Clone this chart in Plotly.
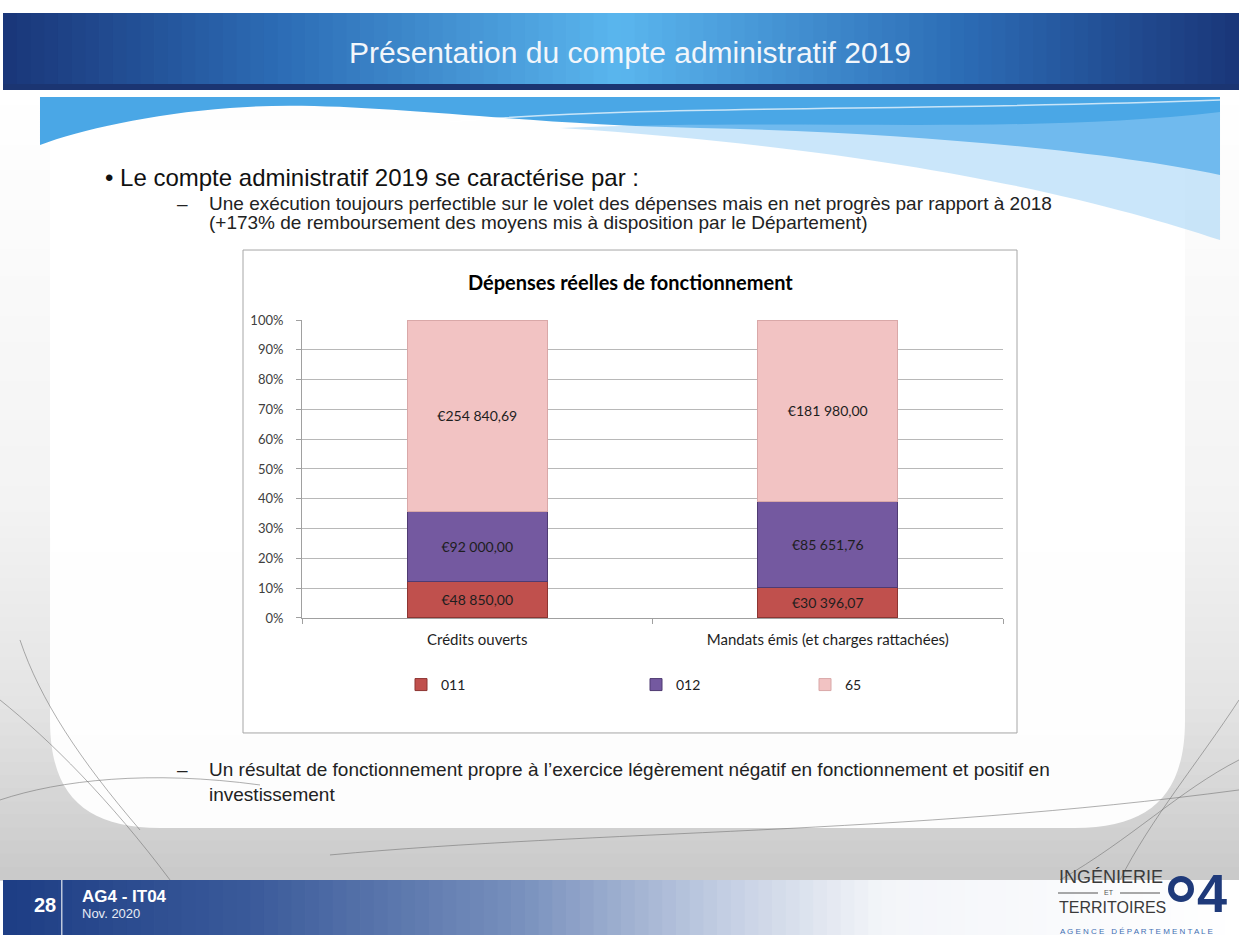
import re
import plotly.graph_objects as go

# chart data
categories = ["Crédits ouverts", "Mandats émis (et charges rattachées)"]
series_names = ["011", "012", "65"]
values_011 = [48850.00, 30396.07]
values_012 = [92000.00, 85651.76]
values_65 = [254840.69, 181980.00]
y_tick_values = [0, 10, 20, 30, 40, 50, 60, 70, 80, 90, 100]
y_tick_labels = ["0%", "10%", "20%", "30%", "40%", "50%", "60%", "70%", "80%", "90%", "100%"]

W, H = 1239, 935
CHART_FONT = "Lato, Carlito, Calibri, sans-serif"
SLIDE_FONT = "Liberation Sans, Arial, sans-serif"
# the photographed page came out slightly squeezed vertically, stretch y a bit
Y_STRETCH = 1 / 0.983
Y_MID = 468


def px(x):
    return x / W


def py(y):
    return 1 - (Y_MID + (y - Y_MID) * Y_STRETCH) / H


def to_paper(path):
    # path written in slide pixels -> paper coordinates
    return re.sub(r"(-?\d+\.?\d*),(-?\d+\.?\d*)",
                  lambda m: f"{px(float(m[1])):.5f},{py(float(m[2])):.5f}", path)


def hex_rgb(h):
    h = h.lstrip("#")
    return [int(h[i:i + 2], 16) for i in (0, 2, 4)]


def blend(stops, pos):
    for (p0, c0), (p1, c1) in zip(stops[:-1], stops[1:]):
        if p0 <= pos <= p1:
            t = (pos - p0) / (p1 - p0) if p1 > p0 else 0
            a, b = hex_rgb(c0), hex_rgb(c1)
            return "rgb(%d,%d,%d)" % tuple(round(a[i] + (b[i] - a[i]) * t) for i in range(3))
    return stops[-1][1]


def euro(v):
    s = f"{v:,.2f}"
    return "€" + s.replace(",", " ").replace(".", ",")


shapes = []


def rect(x0, y0, x1, y1, color, line=None):
    shapes.append(dict(type="rect", xref="paper", yref="paper", layer="below",
                       x0=px(x0), x1=px(x1), y0=py(y1), y1=py(y0),
                       fillcolor=color, line=line or dict(width=0)))


def path(d, fill=None, line=None):
    shapes.append(dict(type="path", xref="paper", yref="paper", layer="below",
                       path=to_paper(d), fillcolor=fill or "rgba(0,0,0,0)",
                       line=line or dict(width=0)))


def hgrad(x0, x1, y0, y1, stops, n=90):
    step = (x1 - x0) / n
    for i in range(n):
        a = x0 + i * step
        rect(a, y0, a + step + 0.8, y1, blend(stops, a + step / 2))


def vgrad(x0, x1, y0, y1, stops, n=60):
    step = (y1 - y0) / n
    for i in range(n):
        a = y0 + i * step
        rect(x0, a, x1, a + step + 0.8, blend(stops, a + step / 2))


# ---- slide background ----
vgrad(0, W, 92, 880, [(92, "#ffffff"), (500, "#f3f3f3"), (700, "#e4e4e4"), (880, "#c9c9c9")])
path("M 50,130 L 1185,130 L 1185,720 C 1185,795 1150,828 1075,828 L 160,828 C 85,828 50,795 50,720 Z",
     fill="rgba(255,255,255,0.94)")

# decorative thin lines
for d in ["M 0,700 C 50,740 110,800 170,880",
          "M 0,800 C 60,780 150,770 260,785",
          "M 20,640 C 40,700 80,760 140,830",
          "M 330,855 C 600,830 900,835 1239,790",
          "M 1239,700 C 1200,760 1150,820 1120,880",
          "M 1239,760 C 1180,790 1130,840 1060,880"]:
    path(d, line=dict(color="rgba(110,110,110,0.55)", width=1))

# blue wave under the header
path("M 40,97 L 1220,97 L 1220,175 C 1100,150 900,132 700,128 C 500,124 350,98 230,108 C 150,114 80,130 40,145 Z",
     fill="#4aa7e6")
path("M 560,128 C 800,118 1020,135 1220,112 L 1220,240 C 1100,200 900,150 560,128 Z",
     fill="rgba(150,205,245,0.5)")
path("M 450,122 C 650,104 900,112 1220,100", line=dict(color="rgba(255,255,255,0.7)", width=1.5))

# header band
hgrad(3, W, 13, 88, [(3, "#1a3678"), (280, "#2c6cb5"), (620, "#5ab6ee"), (960, "#2c6cb5"), (W, "#1a3678")])
rect(3, 84, W, 90, "#1b3572")

# footer band
hgrad(3, W, 880, 950, [(3, "#1d3d84"), (250, "#3a5a9a"), (520, "#7890bd"), (720, "#c2cde2"),
                       (880, "#f3f5f9"), (W, "#ffffff")])
rect(61, 880, 62.5, 950, "rgba(255,255,255,0.7)")

# chart box
rect(243, 250, 1017, 733, "#ffffff", line=dict(color="#a6a6a6", width=1))

# logo pieces
rect(1058, 892.5, 1098, 893.5, "#555555")
rect(1120, 892.5, 1160, 893.5, "#555555")
shapes.append(dict(type="circle", xref="paper", yref="paper", layer="above",
                   x0=px(1171), x1=px(1191), y0=py(899), y1=py(879),
                   line=dict(color="#1f3a7a", width=6)))

# ---- bars ----
fig = go.Figure()
bar_colors = ["#c0504d", "#7459a0", "#f2c3c3"]
edge_colors = ["#8d3532", "#4f3b72", "#d9a8a8"]
legends = ["legend", "legend2", "legend3"]
for name, vals, col, edge, lg in zip(series_names, [values_011, values_012, values_65],
                                    bar_colors, edge_colors, legends):
    fig.add_trace(go.Bar(
        x=categories, y=vals, name=name,
        text=[euro(v) for v in vals], textposition="inside", insidetextanchor="middle",
        textangle=0, constraintext="none",
        textfont=dict(family=CHART_FONT, size=14, color="#1e1e1e"),
        marker=dict(color=col, line=dict(color=edge, width=1)),
        legend=lg, hoverinfo="skip",
    ))

legend_style = dict(orientation="h", yanchor="middle", xanchor="left", y=py(685),
                    bgcolor="rgba(0,0,0,0)", itemwidth=30,
                    font=dict(family=CHART_FONT, size=14, color="#222222"))

annotations = [
    dict(text="Présentation du compte administratif 2019", x=px(630), y=py(52),
         font=dict(family=SLIDE_FONT, size=30, color="#f2f6fb")),
    dict(text="• Le compte administratif 2019 se caractérise par :", x=px(103), y=py(177),
         xanchor="left", font=dict(family=SLIDE_FONT, size=24, color="#111111")),
    dict(text="–", x=px(175), y=py(203), xanchor="left",
         font=dict(family=SLIDE_FONT, size=19, color="#222222")),
    dict(text="Une exécution toujours perfectible sur le volet des dépenses mais en net progrès par rapport à 2018",
         x=px(207), y=py(203), xanchor="left", font=dict(family=SLIDE_FONT, size=19, color="#222222")),
    dict(text="(+173% de remboursement des moyens mis à disposition par le Département)",
         x=px(207), y=py(222), xanchor="left", font=dict(family=SLIDE_FONT, size=19, color="#222222")),
    dict(text="–", x=px(175), y=py(770), xanchor="left",
         font=dict(family=SLIDE_FONT, size=19, color="#222222")),
    dict(text="Un résultat de fonctionnement propre à l’exercice légèrement négatif en fonctionnement et positif en",
         x=px(207), y=py(770), xanchor="left", font=dict(family=SLIDE_FONT, size=19, color="#222222")),
    dict(text="investissement", x=px(207), y=py(795), xanchor="left",
         font=dict(family=SLIDE_FONT, size=19, color="#222222")),
    dict(text="<b>Dépenses réelles de fonctionnement</b>", x=px(630), y=py(282),
         font=dict(family=CHART_FONT, size=20, color="#000000")),
    dict(text="<b>28</b>", x=px(45), y=py(905), font=dict(family=SLIDE_FONT, size=20, color="#ffffff")),
    dict(text="<b>AG4 - IT04</b>", x=px(80), y=py(897), xanchor="left",
         font=dict(family=SLIDE_FONT, size=17, color="#ffffff")),
    dict(text="Nov. 2020", x=px(80), y=py(914), xanchor="left",
         font=dict(family=SLIDE_FONT, size=13, color="#e8ecf5")),
    dict(text="INGÉNIERIE", x=px(1057), y=py(877), xanchor="left",
         font=dict(family=SLIDE_FONT, size=18, color="#3a3a3a")),
    dict(text="ET", x=px(1109), y=py(893), font=dict(family=SLIDE_FONT, size=7, color="#555555")),
    dict(text="TERRITOIRES", x=px(1057), y=py(908), xanchor="left",
         font=dict(family=SLIDE_FONT, size=16, color="#3a3a3a")),
    dict(text="<b>4</b>", x=px(1212), y=py(893), font=dict(family=SLIDE_FONT, size=54, color="#1f3a7a")),
    dict(text="A G E N C E   D É P A R T E M E N T A L E", x=px(1058), y=py(932), xanchor="left",
         font=dict(family=SLIDE_FONT, size=8, color="#3f6fb3")),
]
for a in annotations:
    a.update(xref="paper", yref="paper", showarrow=False)
    a.setdefault("xanchor", "center")
    a.setdefault("yanchor", "middle")

fig.update_layout(
    width=W, height=H, margin=dict(l=0, r=0, t=0, b=0),
    paper_bgcolor="#ffffff", plot_bgcolor="rgba(0,0,0,0)",
    barmode="stack", barnorm="percent", bargap=0.6,
    showlegend=True,
    legend=dict(legend_style, x=px(401)),
    legend2=dict(legend_style, x=px(636)),
    legend3=dict(legend_style, x=px(805)),
    shapes=shapes, annotations=annotations,
    xaxis=dict(domain=[px(302), px(1003)], showgrid=False,
               showline=True, linecolor="#a0a0a0", linewidth=1,
               ticks="outside", tickson="boundaries", ticklen=5, tickcolor="#a0a0a0",
               tickfont=dict(family=CHART_FONT, size=15, color="#1e1e1e"), ticklabelstandoff=8),
    yaxis=dict(domain=[py(618), py(320)], range=[0, 100],
               tickvals=y_tick_values, ticktext=y_tick_labels,
               showgrid=True, gridcolor="#b8b8b8", gridwidth=1,
               showline=True, linecolor="#a0a0a0", linewidth=1,
               ticks="outside", ticklen=5, tickcolor="#a0a0a0", zeroline=False,
               ticklabelstandoff=10,
               tickfont=dict(family=CHART_FONT, size=13, color="#404040")),
)

# drop the default page margin so the figure sits at the window's top-left corner
fig.write_html("out.html", config={"displayModeBar": False},
               post_script="document.body.style.margin='0';document.body.style.overflow='hidden';")
